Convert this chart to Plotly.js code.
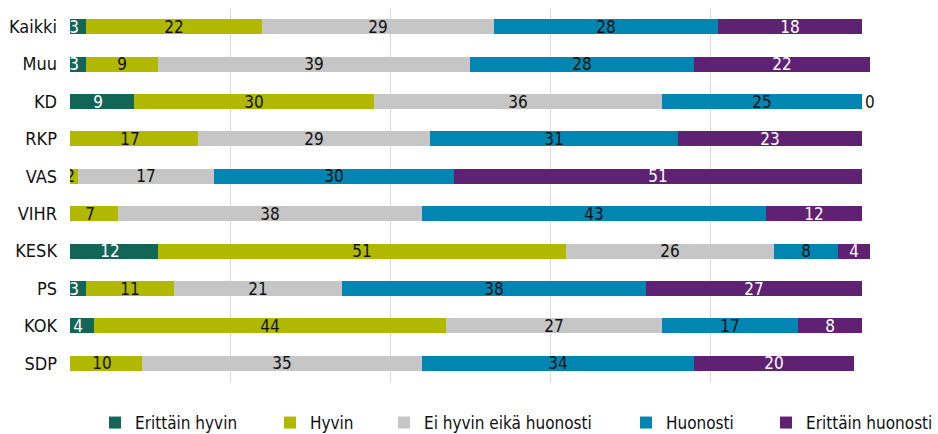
<!DOCTYPE html>
<html>
<head>
<meta charset="utf-8">
<script src="https://cdn.plot.ly/plotly-3.0.1.min.js"></script>
<style>html,body{margin:0;padding:0;background:#fff;}#chart{width:938px;height:434px;}</style>
</head>
<body>
<div id="chart"></div>
<script>
// Categories (top to bottom)
const categories = ['Kaikki','Muu','KD','RKP','VAS','VIHR','KESK','PS','KOK','SDP'];
// Series values (%)
const erittainHyvin    = [3, 3, 9, null, null, null, 12, 3, 4, null];
const hyvin            = [22, 9, 30, 17, 2, 7, 51, 11, 44, 10];
const eiHyvinEikaHuon  = [29, 39, 36, 29, 17, 38, 26, 21, 27, 35];
const huonosti         = [28, 28, 25, 31, 30, 43, 8, 38, 17, 34];
const erittainHuonosti = [18, 22, 0, 23, 51, 12, 4, 27, 8, 20];
const seriesNames = ['Erittäin hyvin','Hyvin','Ei hyvin eikä huonosti','Huonosti','Erittäin huonosti'];
// Grid positions of the x axis (no tick labels shown)
const gridVals = [1, 21, 41, 61, 81, 101];

const seriesValues = [erittainHyvin, hyvin, eiHyvinEikaHuon, huonosti, erittainHuonosti];
const colors = ['#136656', '#b0b800', '#c6c6c6', '#0086b1', '#5f2272'];
const textColors = ['#ffffff', '#111111', '#111111', '#111111', '#ffffff'];
const FAM = '"DejaVu Sans Condensed", "DejaVu Sans", sans-serif';
const font = (size, color) => ({family: FAM, size: size, color: color});

const legendIds = ['legend', 'legend2', 'legend3', 'legend4', 'legend5'];
const legendX = [95, 270, 384, 626, 766];

const traces = seriesValues.map((vals, i) => ({
  type: 'bar',
  orientation: 'h',
  name: seriesNames[i],
  legend: legendIds[i],
  y: categories,
  x: vals,
  text: vals.map(v => (v === null ? '' : String(v))),
  textposition: vals.map(v => (v === 0 ? 'outside' : 'inside')),
  insidetextanchor: 'middle',
  textangle: 0,
  constraintext: 'none',
  cliponaxis: i === seriesValues.length - 1 ? false : true,
  textfont: font(17, textColors[i]),
  outsidetextfont: font(17, '#111111'),
  marker: {color: colors[i], line: {width: 0}},
  hoverinfo: 'none'
}));

const layout = {
  width: 938,
  height: 434,
  margin: {l: 70, r: 68, t: 8, b: 52, autoexpand: false},
  paper_bgcolor: '#ffffff',
  plot_bgcolor: '#ffffff',
  barmode: 'stack',
  bargap: 0.6,
  font: font(18, '#111111'),
  showlegend: true,
  xaxis: {
    range: [1, 101],
    tickvals: gridVals,
    showticklabels: false,
    showgrid: true,
    gridcolor: '#d9d9d9',
    gridwidth: 1,
    zeroline: false,
    showline: false,
    ticks: '',
    fixedrange: true
  },
  yaxis: {
    autorange: 'reversed',
    type: 'category',
    showgrid: false,
    zeroline: false,
    showline: false,
    ticks: '',
    ticklabelstandoff: 12,
    tickfont: font(18, '#111111'),
    fixedrange: true
  }
};
legendIds.forEach((id, i) => {
  layout[id] = {
    orientation: 'h',
    xref: 'container', x: legendX[i] / 938, xanchor: 'left',
    yref: 'container', y: 11 / 434, yanchor: 'middle',
    font: font(17, '#111111'),
    bgcolor: 'rgba(0,0,0,0)'
  };
});

Plotly.newPlot('chart', traces, layout, {displayModeBar: false, staticPlot: true});
</script>
</body>
</html>
